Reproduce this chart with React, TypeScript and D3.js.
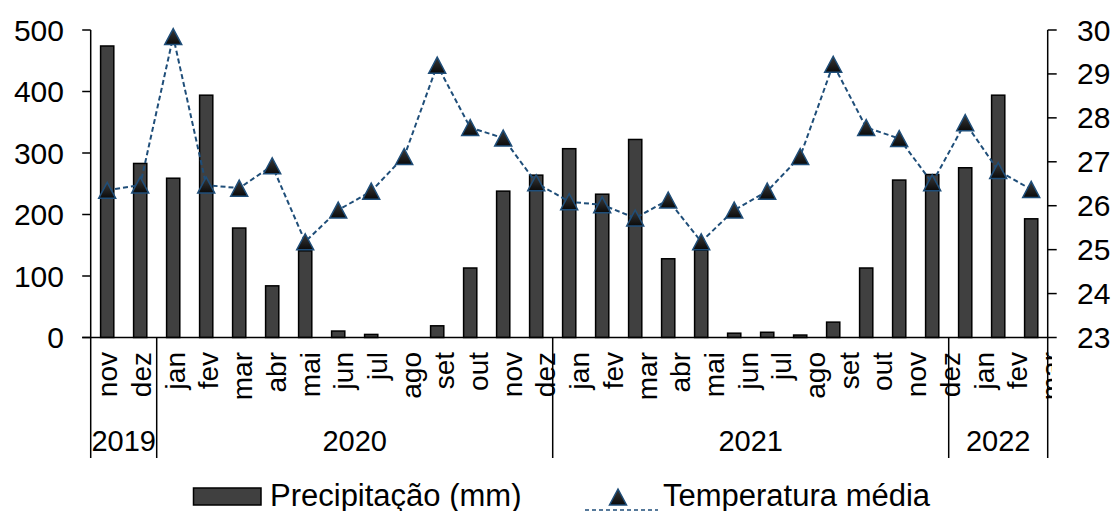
import React from "react";
import * as d3 from "d3";

const months = ["nov","dez","jan","fev","mar","abr","mai","jun","jul","ago","set","out","nov","dez","jan","fev","mar","abr","mai","jun","jul","ago","set","out","nov","dez","jan","fev","mar"];
const yearLabels = ["2019", "2020", "2021", "2022"];
const yearCounts = [2, 12, 12, 3];
const precip = [474, 283, 259, 394, 178, 84, 141, 10.5, 5, 0, 19, 113, 238, 264, 307, 233, 322, 128, 142, 7, 8.5, 4, 25, 113, 256, 265, 276, 394, 193];
const temp = [26.35, 26.47, 29.85, 26.47, 26.4, 26.91, 25.18, 25.9, 26.33, 27.12, 29.2, 27.78, 27.54, 26.52, 26.09, 26.02, 25.72, 26.13, 25.18, 25.9, 26.33, 27.12, 29.22, 27.78, 27.53, 26.52, 27.89, 26.8, 26.37];
const leftTicks = [0, 100, 200, 300, 400, 500];
const rightTicks = [23, 24, 25, 26, 27, 28, 29, 30];

const W = 1116, H = 511;
const xL = 90.7, xR = 1047.7, yT = 30, yB = 337.5;
const FONT = "'Liberation Sans', Arial, sans-serif";
const BLUE = "#1F4E79";

export default function App() {
  const idx = months.map((_, i) => String(i));
  const x = d3.scaleBand().domain(idx).range([xL, xR]).paddingInner(0).paddingOuter(0);
  const labelStep = 33.7;
  const xLab = d3.scaleBand().domain(idx).range([xL, xL + labelStep * months.length]);
  const yP = d3.scaleLinear().domain([0, 500]).range([yB, yT]);
  const yTemp = d3.scaleLinear().domain([23, 30]).range([yB, yT]);
  const bw = x.bandwidth();
  const barW = bw * 0.4;
  const cx = (i: number) => (x(String(i)) as number) + bw / 2;
  const line = d3.line<number>().x((_, i) => cx(i)).y((d) => yTemp(d));

  const tw = 17, th = 16;
  const tri = `M0,${-th / 2}L${tw / 2},${th / 2}L${-tw / 2},${th / 2}Z`;

  let acc = 0;
  const bounds = [0];
  yearCounts.forEach((c) => { acc += c; bounds.push(acc); });
  const bx = (k: number) => (k >= months.length ? xR : (x(String(k)) as number));

  return (
    <svg width={W} height={H} style={{ position: "absolute", left: 0, top: 0, background: "#fff" }} fontFamily={FONT}>
      <defs>
        <clipPath id="labclip">
          <rect x={0} y={yB} width={1052} height={130} />
        </clipPath>
        <linearGradient id="tg" x1="0" y1="0" x2="0" y2="1">
          <stop offset="0" stopColor="#3a3a3a" />
          <stop offset="1" stopColor="#0a0a0a" />
        </linearGradient>
      </defs>
      {/* bars */}
      {precip.map((v, i) => (
        <rect key={"b" + i} x={cx(i) - barW / 2} y={yP(v)} width={barW} height={Math.max(0, yB - yP(v))}
          fill="#404040" stroke="#000" strokeWidth={1.5} />
      ))}
      {/* axes */}
      <line x1={xL - 8.5} x2={xR} y1={yB} y2={yB} stroke="#000" strokeWidth={1.5} />
      <line x1={xL} x2={xL} y1={yT} y2={yB} stroke="#000" strokeWidth={1.5} />
      <line x1={xR} x2={xR} y1={yT} y2={yB} stroke="#000" strokeWidth={1.5} />
      {leftTicks.map((t) => (
        <g key={"l" + t}>
          <line x1={xL - 8.5} x2={xL} y1={yP(t)} y2={yP(t)} stroke="#000" strokeWidth={1.5} />
          <text x={64} y={yP(t)} dy="0.35em" textAnchor="end" fontSize={30} fill="#000">{t}</text>
        </g>
      ))}
      {rightTicks.map((t) => (
        <g key={"r" + t}>
          <line x1={xR} x2={xR + 9} y1={yTemp(t)} y2={yTemp(t)} stroke="#000" strokeWidth={1.5} />
          <text x={1077} y={yTemp(t)} dy="0.35em" textAnchor="start" fontSize={30} fill="#000">{t}</text>
        </g>
      ))}
      {/* year separators */}
      {bounds.map((k) => (
        <line key={"s" + k} x1={bx(k)} x2={bx(k)} y1={yB} y2={458} stroke="#000" strokeWidth={1.5} />
      ))}
      {/* month labels */}
      <g clipPath="url(#labclip)">
        {months.map((m, i) => {
          const lx = (xLab(String(i)) as number) + xLab.bandwidth() / 2;
          return (
            <text key={"m" + i} transform={`translate(${lx},352) rotate(-90)`} dy="0.35em" textAnchor="end" fontSize={28} fill="#000">{m}</text>
          );
        })}
      </g>
      {/* year labels */}
      {yearLabels.map((yl, j) => (
        <text key={"y" + j} x={(bx(bounds[j]) + bx(bounds[j + 1])) / 2} y={451} textAnchor="middle" fontSize={29} fill="#000">{yl}</text>
      ))}
      {/* temperature line */}
      <path d={line(temp) || ""} fill="none" stroke={BLUE} strokeWidth={2} strokeDasharray="5,3" />
      {temp.map((v, i) => (
        <path key={"t" + i} d={tri} transform={`translate(${cx(i)},${yTemp(v)})`} fill="url(#tg)" stroke={BLUE} strokeWidth={1.5} strokeLinejoin="miter" />
      ))}
      {/* legend */}
      <rect x={193.5} y={488} width={67.5} height={17} fill="#404040" stroke="#000" strokeWidth={1.5} />
      <text x={270} y={505.5} fontSize={31} fill="#000">Precipitação (mm)</text>
      <line x1={585} x2={658} y1={510} y2={510} stroke={BLUE} strokeWidth={1.5} strokeDasharray="4,3" />
      <path d={tri} transform="translate(618,497)" fill="url(#tg)" stroke={BLUE} strokeWidth={1.5} />
      <text x={663} y={505.5} fontSize={31} fill="#000">Temperatura média</text>
    </svg>
  );
}
